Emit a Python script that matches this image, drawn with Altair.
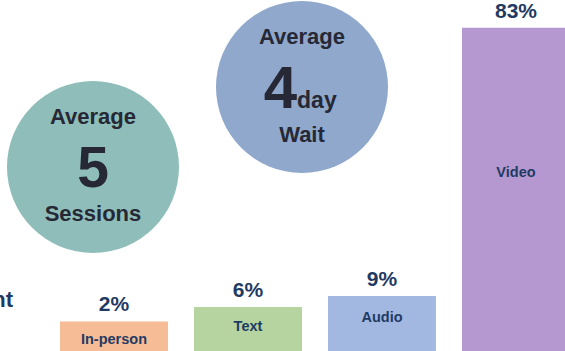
import altair as alt
import pandas as pd

# ---- data -------------------------------------------------------------
categories = ["In-person", "Text", "Audio", "Video"]
shares = [2, 6, 9, 83]
slots = [1, 2, 3, 4]
bar_colors = ["#f5bc95", "#b5d4a0", "#a3b8e0", "#b698d0"]

avg_sessions = 5
avg_wait_days = 4
side_title = "Treatment"

# ---- layout (scale units) --------------------------------------------
W, H = 565, 351
XMIN, XMAX = 0.149, 4.366
YMIN, YMAX = -6.15, 90.63
BAR_HALF = 0.403

FONT = "Liberation Sans"
NAVY = "#1f3b63"
DARK = "#262935"

df = pd.DataFrame({"cat": categories, "pct": shares, "slot": slots})
df["label"] = [f"{v}%" for v in shares]

xs = alt.Scale(domain=[XMIN, XMAX], nice=False, zero=False)
ys = alt.Scale(domain=[YMIN, YMAX], nice=False, zero=False)
col = alt.Color("cat:N", scale=alt.Scale(domain=categories, range=bar_colors), legend=None)

one = pd.DataFrame({"k": [0]})


def X(v):
    return alt.X(datum=v, scale=xs, axis=None) if not isinstance(v, str) else alt.X(v, scale=xs, axis=None)


def Y(v):
    return alt.Y(datum=v, scale=ys, axis=None) if not isinstance(v, str) else alt.Y(v, scale=ys, axis=None)


base = alt.Chart(df)

bars = base.transform_calculate(
    x0=f"datum.slot - {BAR_HALF}", x1=f"datum.slot + {BAR_HALF}"
).mark_bar(clip=True).encode(
    x=X("x0:Q"), x2="x1:Q", y=Y("pct:Q"), y2=alt.Y2(datum=YMIN), color=col
)

pct_text = base.mark_text(
    font=FONT, fontSize=21, fontWeight="bold", color=NAVY, baseline="bottom", dy=-6
).encode(x=X("slot:Q"), y=Y("pct:Q"), text="label:N")

cat_text = base.transform_calculate(
    ly="datum.pct > 50 ? datum.pct / 2 + 1.4 : datum.pct * 0.88 - 4.9"
).mark_text(
    font=FONT, fontSize=14.5, fontWeight="bold", color=NAVY, baseline="middle"
).encode(x=X("slot:Q"), y=Y("ly:Q"), text="cat:N")

R2 = 29584  # circle symbol size (diameter 172 px)

def circle(cx, cy, color):
    return alt.Chart(one).mark_circle(size=R2, opacity=1, color=color).encode(
        x=X(cx), y=Y(cy)
    )

def label(cx, cy, txt, size, align="center", baseline="middle", color=DARK):
    return alt.Chart(one).mark_text(
        text=txt, font=FONT, fontSize=size, fontWeight="bold", color=color,
        align=align, baseline=baseline
    ).encode(x=X(cx), y=Y(cy))

teal = circle(0.843, 44.58, "#8fbeba")
blue = circle(2.403, 66.64, "#8fa8cc")

texts = [
    label(0.843, 58.33, "Average", 22),
    label(0.843, 43.72, str(avg_sessions), 57),
    label(0.843, 31.6, "Sessions", 22),
    label(2.403, 80.4, "Average", 22),
    label(2.366, 60.83, str(avg_wait_days), 60, align="right", baseline="alphabetic"),
    label(2.366, 60.83, "day", 23, align="left", baseline="alphabetic"),
    label(2.403, 53.4, "Wait", 22),
    label(0.246, 7.9, side_title, 22, align="right", color=NAVY),
]

chart = alt.layer(teal, blue, bars, pct_text, cat_text, *texts).properties(
    width=W, height=H, padding=0,
    autosize=alt.AutoSizeParams(type="none"),
    background="white",
).configure_view(stroke=None)

chart.save("out.html", embed_options={"renderer": "svg", "actions": False})
